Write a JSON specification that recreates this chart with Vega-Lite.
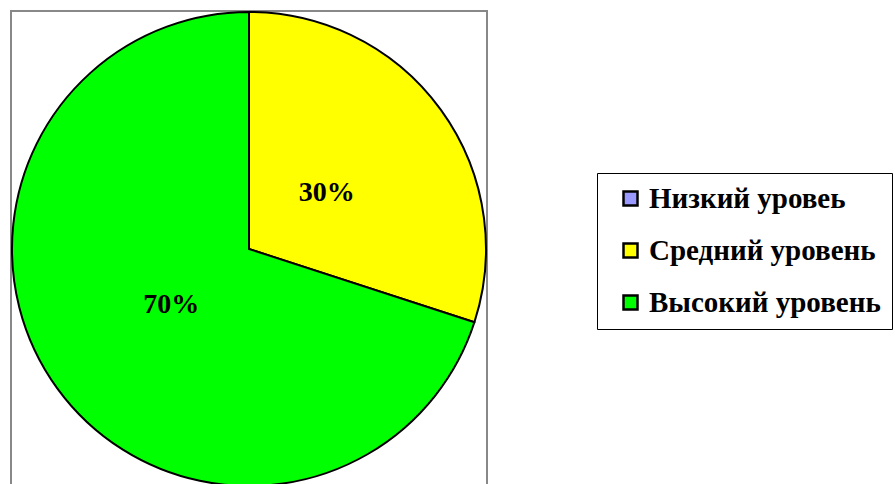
{
  "$schema": "https://vega.github.io/schema/vega-lite/v6.json",
  "autosize": {"type": "none"},
  "width": 476,
  "height": 476,
  "padding": {"left": 11, "top": 11, "right": 408, "bottom": 0},
  "background": "white",
  "view": {"stroke": "#888888", "strokeWidth": 2, "fill": "white"},
  "data": {"values": [
    {"level": "Низкий уровеь", "value": 0, "order": 1, "label": "0%"},
    {"level": "Средний уровень", "value": 30, "order": 2, "label": "30%"},
    {"level": "Высокий уровень", "value": 70, "order": 3, "label": "70%"}
  ]},
  "encoding": {
    "theta": {"field": "value", "type": "quantitative", "stack": true},
    "order": {"field": "order", "type": "quantitative"}
  },
  "layer": [
    {
      "mark": {"type": "arc", "radius": 237, "stroke": "black", "strokeWidth": 2},
      "encoding": {
        "color": {
          "field": "level", "type": "nominal",
          "scale": {"domain": ["Низкий уровеь", "Средний уровень", "Высокий уровень"], "range": ["#9999FF", "#FFFF00", "#00FF00"]},
          "legend": {
            "title": null,
            "orient": "none",
            "legendX": 586,
            "legendY": 162,
            "direction": "vertical",
            "symbolType": "square",
            "symbolSize": 196,
            "symbolStrokeColor": "black",
            "symbolStrokeWidth": 2.5,
            "symbolOffset": 8,
            "labelFont": "Liberation Serif",
            "labelFontSize": 29,
            "labelFontWeight": "bold",
            "labelColor": "black",
            "labelOffset": 4,
            "labelLimit": 400,
            "rowPadding": 22,
            "padding": 11,
            "strokeColor": "black",
            "fillColor": "white"
          }
        }
      }
    },
    {
      "transform": [{"filter": "datum.value > 0"}],
      "mark": {"type": "text", "radius": 96, "font": "Liberation Serif", "fontSize": 28, "fontWeight": "bold", "color": "black"},
      "encoding": {
        "text": {"field": "label", "type": "nominal"}
      }
    }
  ]
}
